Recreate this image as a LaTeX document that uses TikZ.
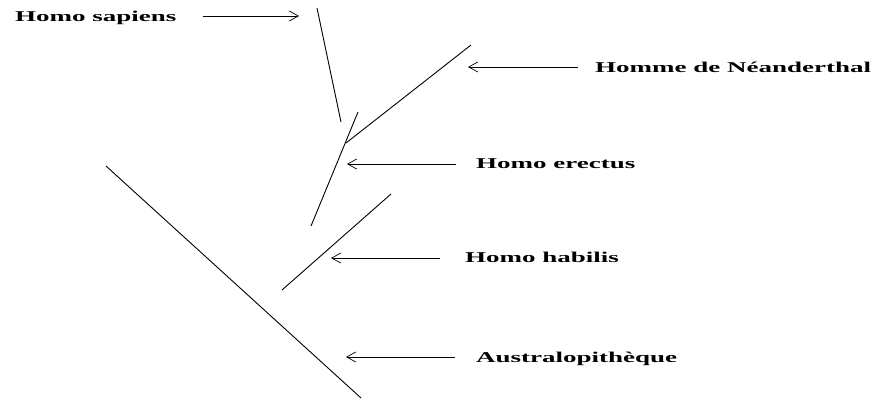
\documentclass[tikz,border=0pt]{standalone}
\usepackage{fontspec}
\newfontfamily\taxonfont[FakeStretch=1.8]{Liberation Serif}
\usetikzlibrary{arrows.meta}
\tikzset{
  branch/.style={line width=0.9pt},
  pointer/.style={line width=0.7pt, -{Straight Barb[length=9pt,width=10pt]}},
  taxon/.style={anchor=base west, inner sep=0pt, font=\taxonfont\bfseries\fontsize{15}{18}\selectfont}
}
\begin{document}
\begin{tikzpicture}[x=1pt,y=-1pt]
            \useasboundingbox (0,0) rectangle (874,402);
            % branches
            \draw [branch] (106,166) -- (361,398);
            \draw [branch] (282,290) -- (391,194);
            \draw [branch] (311,226) -- (358,112);
            \draw [branch] (346,143) -- (471,45);
            \draw [branch] (317,8) -- (341,122);

            \node[taxon] (sapiens) at (15,21) {Homo sapiens};
            \node[taxon] (neand) at (595,72) {Homme de Néanderthal};
            \node[taxon] (erectus) at (476,168) {Homo erectus};
            \node[taxon] (habilis) at (465,262) {Homo habilis};
            \node[taxon] (austral) at (476,362) {Australopithèque};

            \coordinate (sapTip) at (299,16);
            \coordinate (neandTip) at (468,67);
            \coordinate (erectTip) at (347,164);
            \coordinate (habTip) at (331,258);
            \coordinate (austTip) at (346,357);

            \draw [pointer, shorten <=26pt] (sapTip -| sapiens.east) -- (sapTip);
            \draw [pointer, shorten <=17pt] (neandTip -| neand.west) -- (neandTip);
            \draw [pointer, shorten <=20pt] (erectTip -| erectus.west) -- (erectTip);
            \draw [pointer, shorten <=25pt] (habTip -| habilis.west) -- (habTip);
            \draw [pointer, shorten <=21pt] (austTip -| austral.west) -- (austTip);
        \end{tikzpicture}
\end{document}
